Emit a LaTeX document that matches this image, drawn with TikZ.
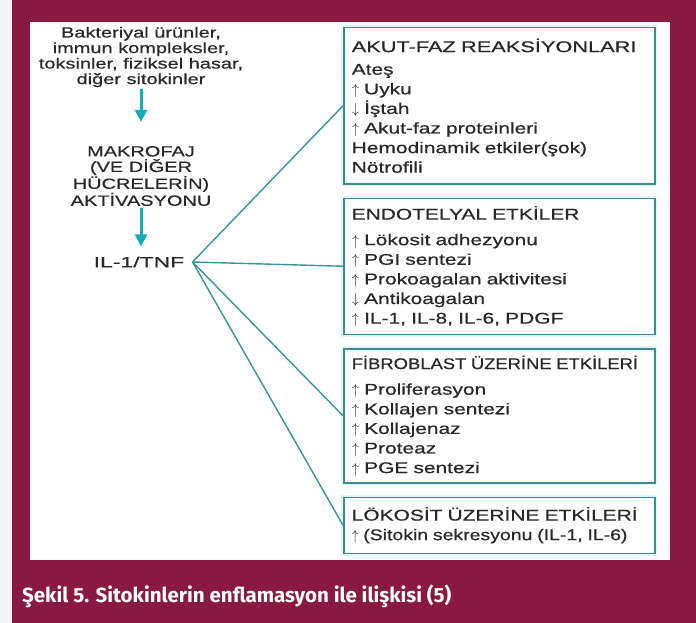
\documentclass[tikz,border=0pt]{standalone}
\usepackage{fontspec}
\usepackage{graphicx}
\usepackage{xcolor}
\usepackage{tikz}
\usetikzlibrary{arrows.meta,positioning}

\newfontfamily\diagfont[FakeStretch=1.35,FakeBold=0.5]{Liberation Sans}
\newfontfamily\capfont{Fira Sans}
\newcommand\incr{$\uparrow$\ }
\newcommand\decr{$\downarrow$\ }

\definecolor{framered}{RGB}{137,25,65}
\definecolor{pagebg}{RGB}{245,245,247}
\definecolor{boxline}{RGB}{62,140,138}
\definecolor{linkline}{RGB}{55,150,155}
\definecolor{flowteal}{RGB}{25,170,185}
\definecolor{inktext}{RGB}{40,40,40}

\begin{document}
\begin{tikzpicture}[
    x=1pt, y=-1pt,
    label/.style={inner sep=0pt, align=center, text=inktext,
                  font=\diagfont\fontsize{14.8}{15.5}\selectfont},
    panel/.style={draw=boxline, line width=1.5pt,
                  preaction={draw=cyan!12, line width=5pt},
                  fill=white, inner xsep=8pt, inner ysep=0pt,
                  text width=295pt, align=left, text=inktext,
                  font=\diagfont\fontsize{15.5}{19.6}\selectfont},
    flow/.style={-{Triangle[width=12pt,length=12pt]}, line width=3pt, flowteal},
    link/.style={line width=1.4pt, linkline},
    node distance=13pt
]
\useasboundingbox (0,0) rectangle (696,623);

% frame
\fill[pagebg] (0,0) rectangle (696,623);
\fill[framered] (12,0) rectangle (696,623);
\fill[white] (30,22) rectangle (670,560);

% left column
\node[label] (src) at (141,57) {Bakteriyal ürünler,\\immun kompleksler,\\toksinler, fiziksel hasar,\\diğer sitokinler};
\node[label] (mak) at (141,176) {MAKROFAJ\\(VE DİĞER\\HÜCRELERİN)\\AKTİVASYONU};
\node[label] (il) at (139,262) {\scalebox{1.15}[1]{IL-1/TNF}};
\coordinate[right=8pt of il] (hub);

\draw[flow, shorten <=2pt, shorten >=24pt] (src.south -| mak) -- (mak.north);
\draw[flow, shorten <=2pt, shorten >=10pt] (mak.south) -- (mak.south |- il.north);

% right column
\node[panel, minimum height=156pt, anchor=north west] (akut) at (343,27)
  {\scalebox{1.04}[1]{AKUT-FAZ REAKSİYONLARI}\\[3pt]
   Ateş\\\incr Uyku\\\decr İştah\\\incr Akut-faz proteinleri\\Hemodinamik etkiler(şok)\\Nötrofili};
\node[panel, minimum height=136pt, below=of akut] (endo)
  {ENDOTELYAL ETKİLER\\[6pt]
   \incr Lökosit adhezyonu\\\incr PGI sentezi\\\incr Prokoagalan aktivitesi\\\decr Antikoagalan\\\incr IL-1, IL-8, IL-6, PDGF};
\node[panel, minimum height=134pt, below=of endo] (fibro)
  {\scalebox{0.88}[1]{FİBROBLAST ÜZERİNE ETKİLERİ}\\[6pt]
   \incr Proliferasyon\\\incr Kollajen sentezi\\\incr Kollajenaz\\\incr Proteaz\\\incr PGE sentezi};
\node[panel, minimum height=56pt, below=of fibro] (loko)
  {LÖKOSİT ÜZERİNE ETKİLERİ\\
   \scalebox{0.93}[1]{\incr (Sitokin sekresyonu (IL-1, IL-6)}};

\draw[link] (hub) -- (akut.west);
\draw[link] (hub) -- (endo.west);
\draw[link] (hub) -- (fibro.west);
\draw[link] (hub) -- (loko.west);

% caption
\node[anchor=west, inner sep=0pt, text=white,
      font=\capfont\bfseries\fontsize{20.5}{24}\selectfont] (caption) at (22,596)
  {Şekil 5. Sitokinlerin enflamasyon ile ilişkisi (5)};

\end{tikzpicture}
\end{document}
